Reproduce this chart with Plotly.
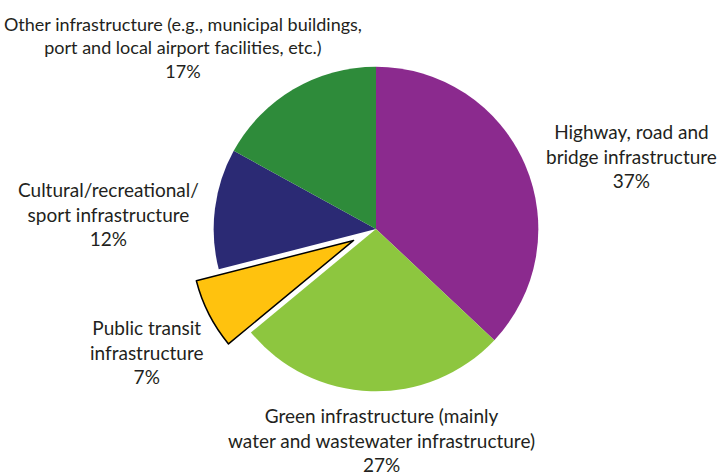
import plotly.graph_objects as go

categories = ["Highway, road and<br>bridge infrastructure",
              "Green infrastructure (mainly<br>water and wastewater infrastructure)",
              "Public transit<br>infrastructure",
              "Cultural/recreational/<br>sport infrastructure",
              "Other infrastructure (e.g., municipal buildings,<br>port and local airport facilities, etc.)"]
values = [37, 27, 7, 12, 17]
colors = ["#8B2A8E", "#8DC63F", "#FFC20E", "#2B2A74", "#2E8B3A"]
pulls = [0, 0, 0.155, 0, 0]
line_widths = [0, 0, 1.5, 0, 0]

# label anchor positions (pixels from left/top of 720x475 canvas) and font sizes
label_pos = [(631, 156), (381, 440), (146, 352), (108, 214), (183, 47)]
label_sizes = [19, 19, 19, 19, 18]

W, H = 720, 475
fig = go.Figure(go.Pie(
    values=values,
    labels=categories,
    marker=dict(colors=colors, line=dict(color="black", width=line_widths)),
    pull=pulls,
    sort=False,
    direction="clockwise",
    rotation=0,
    textinfo="none",
    hoverinfo="label+percent",
    showlegend=False,
    domain=dict(x=[188.5 / W, 563.5 / W], y=[1 - 416.5 / H, 1 - 41.5 / H]),
))

annotations = []
for cat, v, (px, py), fs in zip(categories, values, label_pos, label_sizes):
    annotations.append(dict(
        x=px / W, y=1 - py / H, xref="paper", yref="paper",
        text=f"{cat}<br>{v}%", showarrow=False,
        xanchor="center", yanchor="middle", align="center",
        font=dict(family="Lato", size=fs, color="#231F20"),
    ))

fig.update_layout(
    width=W, height=H,
    margin=dict(l=0, r=0, t=0, b=0),
    paper_bgcolor="white", plot_bgcolor="white",
    annotations=annotations,
)
fig.write_html("out.html")
